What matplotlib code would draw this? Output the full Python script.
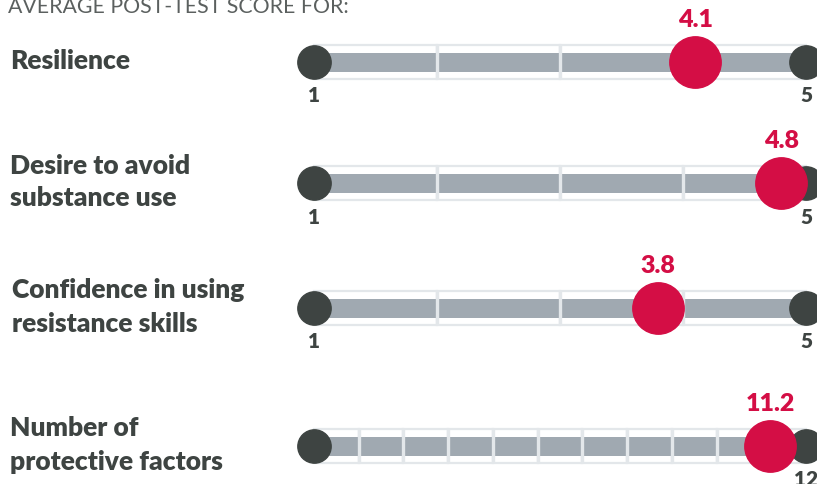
import matplotlib
matplotlib.use("Agg")
import matplotlib.pyplot as plt
from matplotlib.patches import Rectangle

# Data
labels = ["Resilience", "Desire to avoid\nsubstance use",
          "Confidence in using\nresistance skills", "Number of\nprotective factors"]
scores = [4.1, 4.8, 3.8, 11.2]
scale_min = [1, 1, 1, 1]
scale_max = [5, 5, 5, 12]
min_labels = ["1", "1", "1", ""]
max_labels = ["5", "5", "5", "12"]
title = "AVERAGE POST-TEST SCORE FOR:"

# Colours
red = "#D40E45"
dark = "#3E4442"
grey = "#A0A9B1"
light = "#E3E7EA"

plt.rcParams["font.family"] = ["Lato", "DejaVu Sans"]

W, H = 817, 484
fig = plt.figure(figsize=(W / 100, H / 100), dpi=100)
fig.patch.set_facecolor("white")

row_y = [62, 183, 308, 446]   # row centres in pixels from top
x0, x1 = 314, 806              # pixel positions of the scale ends

fig.text(8 / W, 1 - 13 / H, title, fontsize=15.3, color="#5b605f", va="baseline")

for i_row, (label, score, lo, hi, yc) in enumerate(zip(labels, scores, scale_min, scale_max, row_y)):
    fig.text((12 if i_row == 2 else 10) / W, 1 - (yc - 1) / H, label, fontsize=19,
             fontweight="heavy", color=dark, va="center", ha="left", linespacing=1.45)

    ax = fig.add_axes([x0 / W, 1 - (yc + 20) / H, (x1 - x0) / W, 40 / H])
    ax.set_xlim(lo, hi)
    ax.set_ylim(-1, 1)
    ax.axis("off")

    # cells with light border
    for i in range(lo, hi):
        ax.add_patch(Rectangle((i, -0.85), 1, 1.7, facecolor="white",
                               edgecolor=light, lw=1.6, clip_on=False, zorder=1))
    ax.barh(0, hi - lo, left=lo, height=0.95, color=grey, zorder=2)
    ax.vlines(range(lo + 1, hi), -0.85, 0.85, color=light, lw=2.4, zorder=3)

    # end points
    ax.plot([lo, hi], [0, 0], "o", ms=24, color=dark, clip_on=False, zorder=4)
    # score marker
    ax.plot(score, 0, "o", ms=37, color=red, clip_on=False, zorder=5)

    ax.annotate(f"{score}", (score, 0), xytext=(0, 42), textcoords="offset pixels",
                ha="center", va="center", fontsize=18, fontweight="heavy",
                color=red, annotation_clip=False)
    for v, t in ((lo, min_labels[i_row]), (hi, max_labels[i_row])):
        if t:
            ax.annotate(t, (v, 0), xytext=(0, -34), textcoords="offset pixels",
                        ha="center", va="center", fontsize=15, fontweight="heavy",
                        color=dark, annotation_clip=False)

fig.savefig("out.png", dpi=100)
